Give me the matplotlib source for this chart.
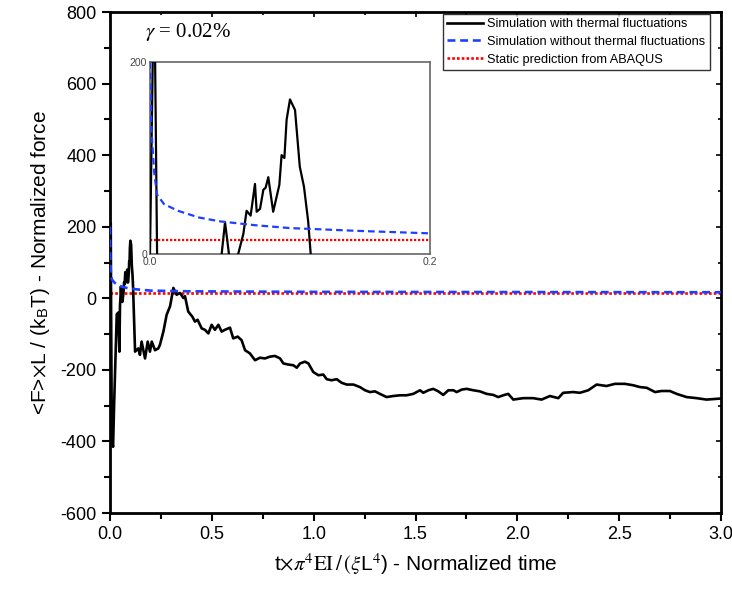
import matplotlib
matplotlib.use('Agg')
import matplotlib.pyplot as plt
from matplotlib.ticker import MultipleLocator

plt.rcParams['font.family'] = ['Liberation Sans', 'DejaVu Sans']
plt.rcParams['mathtext.fontset'] = 'stix'

# black: simulation with thermal fluctuations
t_th = [0.0, 0.002, 0.0036, 0.0052, 0.008, 0.01, 0.015, 0.02, 0.025, 0.03, 0.033, 0.04,
        0.046, 0.049, 0.0512, 0.0536, 0.0564, 0.06, 0.063, 0.0667, 0.069, 0.0719, 0.075,
        0.0762, 0.0786, 0.081, 0.0826, 0.0845, 0.088, 0.0924, 0.094, 0.096, 0.0976, 0.1,
        0.1036, 0.107, 0.11, 0.113, 0.1148, 0.123, 0.139, 0.147, 0.155, 0.172, 0.185,
        0.196, 0.205, 0.221, 0.237, 0.245, 0.262, 0.278, 0.295, 0.311, 0.327, 0.344,
        0.36, 0.368, 0.384, 0.404, 0.417, 0.43, 0.45, 0.466, 0.483, 0.499, 0.515, 0.532,
        0.548, 0.564, 0.589, 0.605, 0.627, 0.646, 0.663, 0.687, 0.712, 0.736, 0.761,
        0.785, 0.81, 0.835, 0.851, 0.875, 0.9, 0.917, 0.933, 0.957, 0.974, 0.998, 1.023,
        1.047, 1.064, 1.088, 1.113, 1.137, 1.162, 1.195, 1.227, 1.252, 1.276, 1.301,
        1.325, 1.358, 1.391, 1.424, 1.456, 1.489, 1.522, 1.538, 1.563, 1.587, 1.612,
        1.636, 1.661, 1.686, 1.702, 1.727, 1.751, 1.784, 1.816, 1.849, 1.882, 1.906,
        1.931, 1.955, 1.98, 2.029, 2.078, 2.119, 2.16, 2.201, 2.225, 2.274, 2.307,
        2.348, 2.389, 2.438, 2.479, 2.528, 2.569, 2.602, 2.635, 2.676, 2.708, 2.749,
        2.782, 2.831, 2.88, 2.929, 2.978, 3.0]
f_th = [0, 205, 210, -20, -300, -400, -415, -300, -200, -100, -45, -40,
        -149, -20, 0, 33, 0, -10, 0, 21, 45, 40, 73,
        44, 47, 67, 69, 80, 44, 72, 103, 100, 140, 161,
        150, 91, 70, 34, 0, -149, -140, -158, -121, -168, -121,
        -149, -121, -145, -140, -130, -93, -46, -22, 29, 10, 15,
        1, 6, -37, -51, -65, -60, -84, -88, -98, -74, -88, -74,
        -93, -88, -82, -112, -107, -117, -145, -154, -173, -166, -168,
        -163, -161, -168, -182, -185, -187, -194, -182, -177, -182, -206, -215,
        -213, -226, -229, -226, -236, -241, -241, -248, -257, -262, -260,
        -267, -276, -273, -271, -271, -267, -257, -264, -257, -253, -260,
        -270, -257, -257, -262, -255, -253, -257, -260, -267, -270, -276,
        -271, -267, -283, -279, -279, -283, -273, -279, -264, -262, -264,
        -257, -241, -245, -239, -239, -243, -248, -250, -262, -259, -259,
        -267, -276, -279, -283, -281, -280]

# blue: simulation without thermal fluctuations
t_nt = [0.0, 0.001, 0.003, 0.005, 0.01, 0.02, 0.035, 0.05, 0.075, 0.1, 0.15, 0.2,
        0.4, 1.0, 2.0, 3.0]
f_nt = [200, 130, 85, 62, 52, 45, 38, 34, 30, 27, 24, 21.5, 19.5, 18, 17.5, 17]

# red: static prediction
t_st = [0.0, 3.0]
f_st = [14.6, 14.6]

fig = plt.figure(figsize=(7.32, 5.90), dpi=100)
ax = fig.add_axes([0.1503, 0.1305, 0.8347, 0.849])

ax.plot(t_th, f_th, color='black', lw=1.9, label='Simulation with thermal fluctuations', zorder=3)
ax.plot(t_nt, f_nt, color='#1f3fff', lw=1.9, ls=(0, (3, 1.8)),
        label='Simulation without thermal fluctuations', zorder=4)
ax.plot(t_st, f_st, color='red', lw=1.9, ls=(0, (1, 0.8)),
        label='Static prediction from ABAQUS', zorder=2)

ax.set_xlim(0, 3.0)
ax.set_ylim(-600, 800)
ax.xaxis.set_major_locator(MultipleLocator(0.5))
ax.xaxis.set_minor_locator(MultipleLocator(0.25))
ax.yaxis.set_major_locator(MultipleLocator(200))
ax.yaxis.set_minor_locator(MultipleLocator(100))
ax.set_xticklabels(['%.1f' % v for v in ax.get_xticks()])
ax.set_yticks(range(-600, 801, 200))
ax.set_yticklabels(['%d' % v if v >= 0 else '-%d' % -v for v in range(-600, 801, 200)])
ax.tick_params(which='both', direction='out', width=1.5, labelsize=13, top=False, right=False)
ax.tick_params(which='major', length=6)
ax.tick_params(which='minor', length=4)
for s in ax.spines.values():
    s.set_linewidth(2)

# inward ticks on top and right
sec_x = ax.secondary_xaxis('top')
sec_x.xaxis.set_major_locator(MultipleLocator(0.5))
sec_x.xaxis.set_minor_locator(MultipleLocator(0.25))
sec_x.tick_params(which='both', direction='in', width=1.2, labeltop=False)
sec_y = ax.secondary_yaxis('right')
sec_y.yaxis.set_major_locator(MultipleLocator(200))
sec_y.yaxis.set_minor_locator(MultipleLocator(100))
sec_y.tick_params(which='both', direction='in', width=1.2, labelright=False)

ax.set_ylabel(r'<F>$\times$L / (k$_\mathregular{B}$T) - Normalized force', fontsize=15, labelpad=6)
ax.set_xlabel(r't$\times\pi^4\mathrm{EI}\,/\,(\xi$L$^4$) - Normalized time', fontsize=15, labelpad=6)

fig.text(0.198, 0.946, r'$\gamma$ = 0.02%', fontsize=15, family=['Liberation Serif'],
         va='center', ha='left')

leg = ax.legend(loc='upper left', bbox_to_anchor=(0.605, 0.977), bbox_transform=fig.transFigure,
                fontsize=9.2, frameon=True, fancybox=False, edgecolor='black',
                handlelength=2.8, handletextpad=0.3, borderpad=0.35, labelspacing=0.45,
                borderaxespad=0)
leg.get_frame().set_linewidth(1.0)

# inset
ins = fig.add_axes([0.2049, 0.5695, 0.3825, 0.3254])
ins.plot(t_th, f_th, color='black', lw=1.6, zorder=3)
ins.plot(t_nt, f_nt, color='#1f3fff', lw=1.6, ls=(0, (3, 1.8)), zorder=4)
ins.plot(t_st, f_st, color='red', lw=1.6, ls=(0, (1, 0.8)), zorder=2)
ins.set_xlim(0, 0.2)
ins.set_ylim(0, 200)
ins.set_xticks([0, 0.2])
ins.set_xticklabels(['0.0', '0.2'])
ins.set_yticks([0, 200])
ins.set_yticklabels(['0', '200'])
ins.tick_params(length=0, labelsize=7.5, colors='#444444', pad=2)
for s in ins.spines.values():
    s.set_color('#666666')
    s.set_linewidth(1.2)

fig.savefig('out.png', dpi=100)
